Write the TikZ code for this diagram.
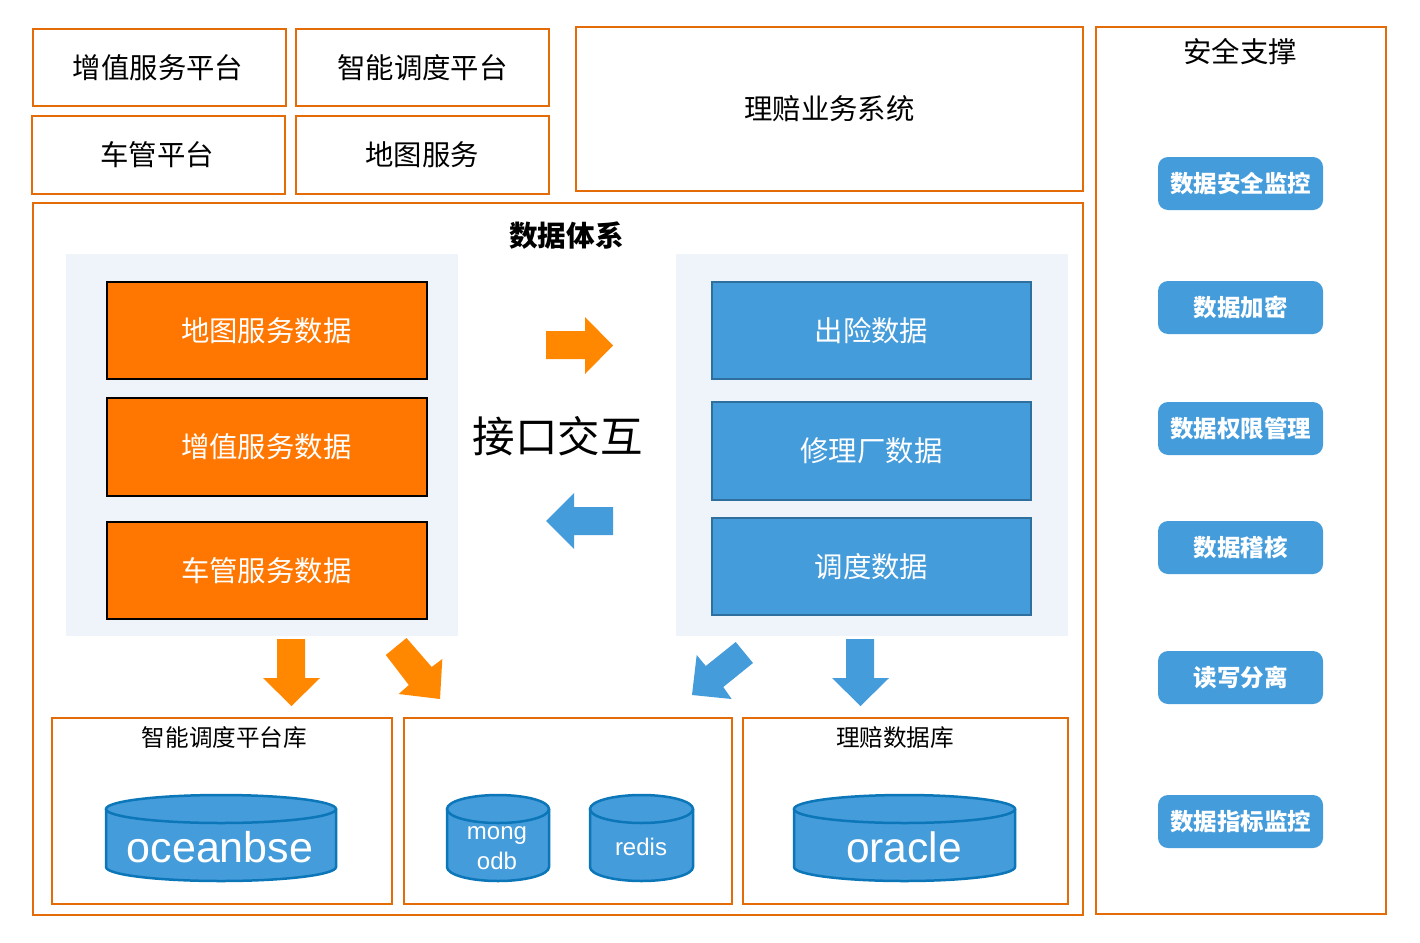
\documentclass[tikz,border=0pt]{standalone}
\usepackage{fontspec}
\setmainfont{Noto Sans CJK SC}
\newfontfamily\latinf{Liberation Sans}
\definecolor{frameor}{HTML}{E36C09}
\definecolor{fillor}{HTML}{FF7700}
\definecolor{arrowor}{HTML}{FF8800}
\definecolor{bluef}{HTML}{459CDB}
\definecolor{blueb}{HTML}{2E6F9E}
\definecolor{cylb}{HTML}{0B76B8}
\definecolor{panel}{HTML}{EFF4FB}
\newcommand{\fsz}[1]{\fontsize{#1}{#1}\selectfont}
\newcommand{\bx}[7]{\node[#6,minimum width={(#4)-(#2)},minimum height={(#5)-(#3)}] (#1) at ({((#2)+(#4))/2},{((#3)+(#5))/2}) {#7};}
\newcommand{\cyl}[5]{% x1 x2 ytop ybot ry
  \fill[bluef] (#1,#3+#5) arc[start angle=180,end angle=360,x radius={((#2)-(#1))/2},y radius=#5] -- (#2,#4-#5) arc[start angle=0,end angle=180,x radius={((#2)-(#1))/2},y radius=#5] -- cycle;
  \fill[bluef] ({((#1)+(#2))/2},#3+#5) ellipse[x radius={((#2)-(#1))/2},y radius=#5];
  \draw[cylb,line width=2.5pt] (#1,#3+#5) -- (#1,#4-#5) arc[start angle=180,end angle=360,x radius={((#2)-(#1))/2},y radius=-#5] -- (#2,#3+#5);
  \draw[cylb,line width=2.5pt] ({((#1)+(#2))/2},#3+#5) ellipse[x radius={((#2)-(#1))/2},y radius=#5];
}
\tikzset{
  every node/.style={inner sep=0pt,outer sep=0pt},
  frame/.style={draw=frameor,line width=2pt,fill=white},
  plain/.style={font=\fsz{28.4}},
  orbox/.style={draw=black,line width=2pt,fill=fillor,text=white,font=\fsz{28.4}},
  blbox/.style={draw=blueb,line width=2pt,fill=bluef,text=white,font=\fsz{28.4}},
  pill/.style={fill=bluef,rounded corners=10pt,text=white,font=\fsz{23.5}\bfseries},
  dblabel/.style={font=\fsz{23.6}},
  cyltext/.style={text=white,font=\latinf\fsz{#1}},
  cyltext/.default=24
}
\begin{document}
\begin{tikzpicture}[x=1pt,y=-1pt]
\useasboundingbox (0,0) rectangle (1420,942);
\fill[white] (0,0) rectangle (1420,942);
% top boxes
\bx{a}{33}{29}{286}{106}{frame,plain}{\hspace{-3pt}增值服务平台}
\bx{b}{296}{29}{549}{106}{frame,plain}{智能调度平台}
\bx{c}{32}{116}{285}{194}{frame,plain}{\hspace{-3pt}车管平台}
\bx{d}{296}{116}{549}{194}{frame,plain}{\hspace{-1pt}地图服务}
\bx{e}{576}{27}{1083}{191}{frame,plain}{理赔业务系统}
% security column
\bx{sec}{1096}{27}{1386}{914}{frame}{}
\node[plain] (sect) at (1240,52) {安全支撑};
\bx{s1}{1158}{157}{1323}{210}{pill}{数据安全监控}
\bx{s2}{1158}{281}{1323}{334}{pill}{数据加密}
\bx{s3}{1158}{402}{1323}{455}{pill}{数据权限管理}
\bx{s4}{1158}{521}{1323}{574}{pill}{数据稽核}
\bx{s5}{1158}{651}{1323}{704}{pill}{读写分离}
\bx{s6}{1158}{795}{1323}{848}{pill}{数据指标监控}
% data system
\bx{sys}{33}{203}{1083}{915}{frame}{}
\node[font=\fsz{28.6}\bfseries] (syst) at (566.5,236) {数据体系};
\bx{pl}{66}{254}{458}{636}{fill=panel}{}
\bx{pr}{676}{254}{1068}{636}{fill=panel}{}
\bx{o1}{107}{282}{427}{379}{orbox}{\hspace{-1.5pt}\raisebox{1pt}{地图服务数据}}
\bx{o2}{107}{398}{427}{496}{orbox}{\hspace{-1.5pt}增值服务数据}
\bx{o3}{107}{522}{427}{619}{orbox}{\hspace{-1.5pt}\raisebox{1pt}{车管服务数据}}
\bx{b1}{712}{282}{1031}{379}{blbox}{\raisebox{1pt}{出险数据}}
\bx{b2}{712}{402}{1031}{500}{blbox}{修理厂数据}
\bx{b3}{712}{518}{1031}{615}{blbox}{调度数据}
\node[font=\fsz{42.5}] (itf) at (557.5,436) {接口交互};
% block arrows
\fill[arrowor] (546,331) -- (585,331) -- (585,317) -- (613,345.5) -- (585,374) -- (585,359) -- (546,359) -- cycle;
\fill[bluef] (613,507) -- (574,507) -- (574,493) -- (546,521) -- (574,549) -- (574,535) -- (613,535) -- cycle;
\fill[arrowor] (277,639) -- (305,639) -- (305,678) -- (320,678) -- (291.5,706) -- (263,678) -- (277,678) -- cycle;
\fill[bluef] (846,639) -- (874,639) -- (874,678) -- (889,678) -- (860.5,706) -- (832,678) -- (846,678) -- cycle;
\fill[arrowor] (406.5,638) -- (431.7,667) -- (442.3,659) -- (440,699) -- (398.7,694) -- (408.8,685) -- (385.8,655) -- cycle;
\fill[bluef] (735.7,642) -- (705.8,666) -- (696.7,655) -- (692,695) -- (731.6,699) -- (723.3,687) -- (753,663) -- cycle;
% databases
\bx{f1}{52}{718}{392}{904}{frame}{}
\bx{f2}{404}{718}{732}{904}{frame}{}
\bx{f3}{743}{718}{1068}{904}{frame}{}
\node[dblabel] (f1t) at (224.5,737.5) {智能调度平台库};
\node[dblabel] (f3t) at (895,737.5) {理赔数据库};
\cyl{106}{336}{795}{881}{14}
\cyl{447}{549}{795}{881}{14}
\cyl{590}{693}{795}{881}{14}
\cyl{794}{1015}{795}{881}{14}
\node[cyltext=43] (c1) at (220,847.5) {oceanbse};
\node[cyltext=24] (c2a) at (497,836) {mong};
\node[cyltext=24] (c2b) at (497,861) {odb};
\node[cyltext=24] (c3) at (641,847) {redis};
\node[cyltext=42.5] (c4) at (904,847.5) {oracle};
\end{tikzpicture}
\end{document}
